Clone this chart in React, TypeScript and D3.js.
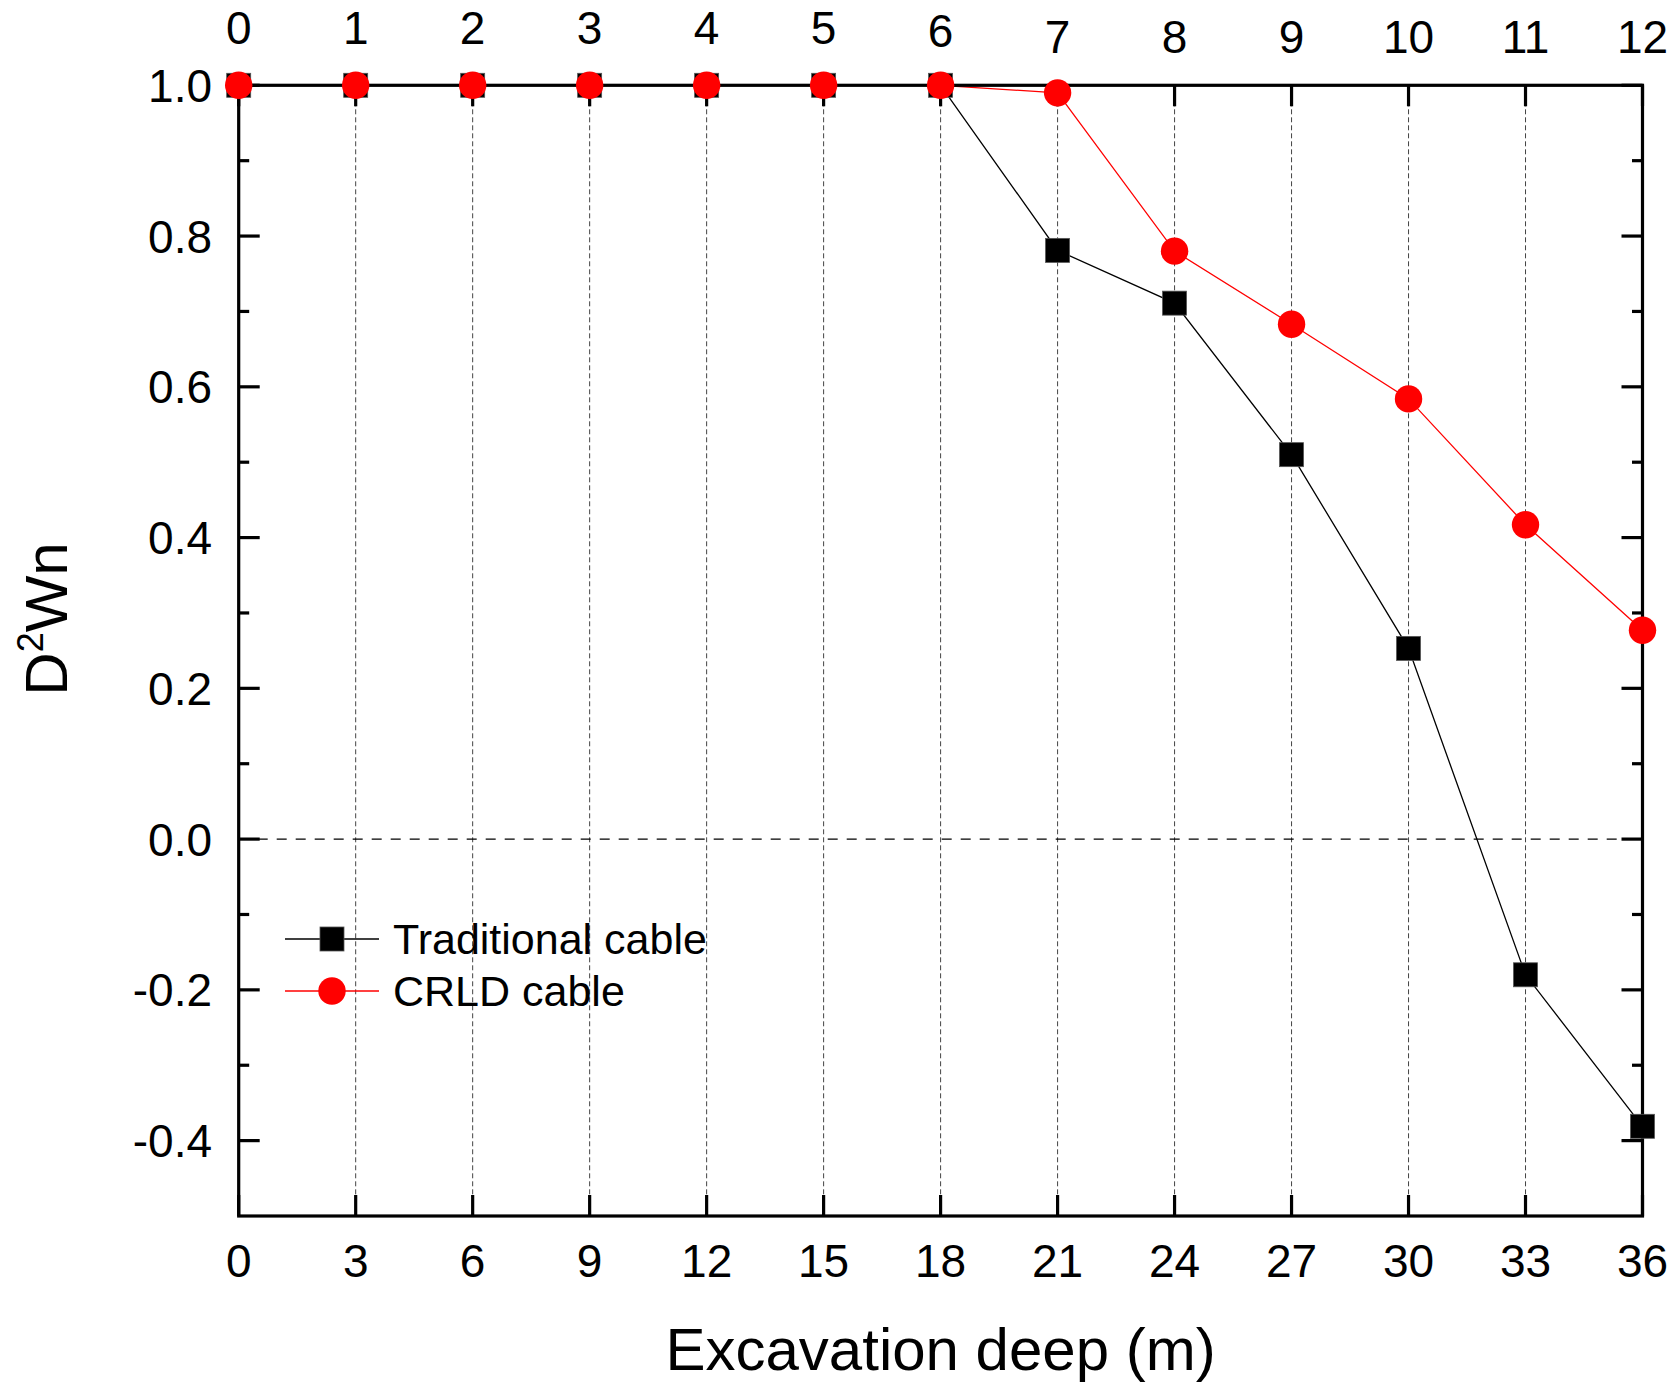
import React from "react";
import * as d3 from "d3";

// Excavation depth (m) for each construction stage
const depth = [0, 3, 6, 9, 12, 15, 18, 21, 24, 27, 30, 33, 36];
// Construction stage index shown on the top axis
const stages = [0, 1, 2, 3, 4, 5, 6, 7, 8, 9, 10, 11, 12];
// Damage index D²Wn for each cable type
const traditional = [1, 1, 1, 1, 1, 1, 1, 0.781, 0.711, 0.51, 0.253, -0.18, -0.381];
const crld = [1, 1, 1, 1, 1, 1, 1, 0.99, 0.78, 0.683, 0.584, 0.417, 0.277];
const yMajorTicks = [-0.4, -0.2, 0, 0.2, 0.4, 0.6, 0.8, 1.0];
const yMinorTicks = [-0.3, -0.1, 0.1, 0.3, 0.5, 0.7, 0.9];

const W = 1672;
const H = 1386;
const L = 238.7;
const R = 1642.5;
const T = 85.3;
const B = 1216;
const FONT = "'Liberation Sans', Arial, Helvetica, sans-serif";

const fmt = (v: number) => d3.format(".1f")(v).replace("\u2212", "-");

export default function App() {
  const x = d3.scaleLinear().domain([0, 36]).range([L, R]);
  const xTop = d3.scaleLinear().domain([0, 12]).range([L, R]);
  const y = d3.scaleLinear().domain([-0.5, 1.0]).range([B, T]);
  const line = d3
    .line<number>()
    .x((_, i) => x(depth[i]))
    .y((v) => y(v));

  const major = 21;
  const minor = 10.5;
  const sq = 24;

  return (
    <svg
      width={W}
      height={H}
      viewBox={`0 0 ${W} ${H}`}
      style={{ position: "absolute", left: 0, top: 0, background: "#fff" }}
      fontFamily={FONT}
    >
      <rect x={0} y={0} width={W} height={H} fill="#fff" />

      {/* vertical grid lines */}
      {depth.slice(1, -1).map((d) => (
        <line
          key={"g" + d}
          x1={x(d)}
          x2={x(d)}
          y1={T}
          y2={B}
          stroke="#444"
          strokeWidth={1}
          strokeDasharray="5 3"
        />
      ))}

      {/* zero reference line */}
      <line x1={L} x2={R} y1={y(0)} y2={y(0)} stroke="#000" strokeWidth={1.2} strokeDasharray="10 9" />

      {/* series lines */}
      <path d={line(traditional) || ""} fill="none" stroke="#000" strokeWidth={1.3} />
      <path d={line(crld) || ""} fill="none" stroke="#ff0000" strokeWidth={1.3} />

      {/* frame */}
      <rect x={L} y={T} width={R - L} height={B - T} fill="none" stroke="#000" strokeWidth={3.2} />

      {/* bottom ticks + labels */}
      {depth.map((d) => (
        <g key={"b" + d}>
          <line x1={x(d)} x2={x(d)} y1={B} y2={B - major} stroke="#000" strokeWidth={3.2} />
          <text x={x(d)} y={1277} textAnchor="middle" fontSize={46} fill="#000">
            {d}
          </text>
        </g>
      ))}

      {/* top ticks + labels */}
      {stages.map((s) => (
        <g key={"t" + s}>
          <line x1={xTop(s)} x2={xTop(s)} y1={T} y2={T + major} stroke="#000" strokeWidth={3.2} />
          <text x={xTop(s)} y={s <= 5 ? 43.5 : s === 6 ? 47 : 52.5} textAnchor="middle" fontSize={46} fill="#000">
            {s}
          </text>
        </g>
      ))}

      {/* left/right ticks */}
      {yMajorTicks.map((v) => (
        <g key={"y" + v}>
          <line x1={L} x2={L + major} y1={y(v)} y2={y(v)} stroke="#000" strokeWidth={3.2} />
          <line x1={R} x2={R - major} y1={y(v)} y2={y(v)} stroke="#000" strokeWidth={3.2} />
          <text x={212} y={y(v)} dy="0.36em" textAnchor="end" fontSize={46} fill="#000">
            {fmt(v)}
          </text>
        </g>
      ))}
      {yMinorTicks.map((v) => (
        <g key={"m" + v}>
          <line x1={L} x2={L + minor} y1={y(v)} y2={y(v)} stroke="#000" strokeWidth={3.2} />
          <line x1={R} x2={R - minor} y1={y(v)} y2={y(v)} stroke="#000" strokeWidth={3.2} />
        </g>
      ))}

      {/* markers */}
      {traditional.map((v, i) => (
        <rect
          key={"s" + i}
          x={x(depth[i]) - sq / 2}
          y={y(v) - sq / 2}
          width={sq}
          height={sq}
          fill="#000"
          stroke="#555"
          strokeWidth={0.8}
        />
      ))}
      {crld.map((v, i) => (
        <circle key={"c" + i} cx={x(depth[i])} cy={y(v)} r={13.7} fill="#ff0000" />
      ))}

      {/* legend */}
      <g>
        <line x1={285} x2={379} y1={939} y2={939} stroke="#000" strokeWidth={1.3} />
        <rect x={332 - sq / 2} y={939 - sq / 2} width={sq} height={sq} fill="#000" stroke="#555" strokeWidth={0.8} />
        <text x={393} y={939} dy="0.36em" fontSize={43} fill="#000">
          Traditional cable
        </text>
        <line x1={285} x2={379} y1={991} y2={991} stroke="#ff0000" strokeWidth={1.3} />
        <circle cx={332} cy={991} r={13.7} fill="#ff0000" />
        <text x={393} y={991} dy="0.36em" fontSize={43} fill="#000">
          CRLD cable
        </text>
      </g>

      {/* axis titles */}
      <text x={(L + R) / 2} y={1370} textAnchor="middle" fontSize={60} fill="#000">
        Excavation deep (m)
      </text>
      <text transform="translate(67,619) rotate(-90)" textAnchor="middle" fontSize={60} fill="#000">
        D
        <tspan fontSize={36} dy={-24}>
          2
        </tspan>
        <tspan dy={24}>Wn</tspan>
      </text>
    </svg>
  );
}
